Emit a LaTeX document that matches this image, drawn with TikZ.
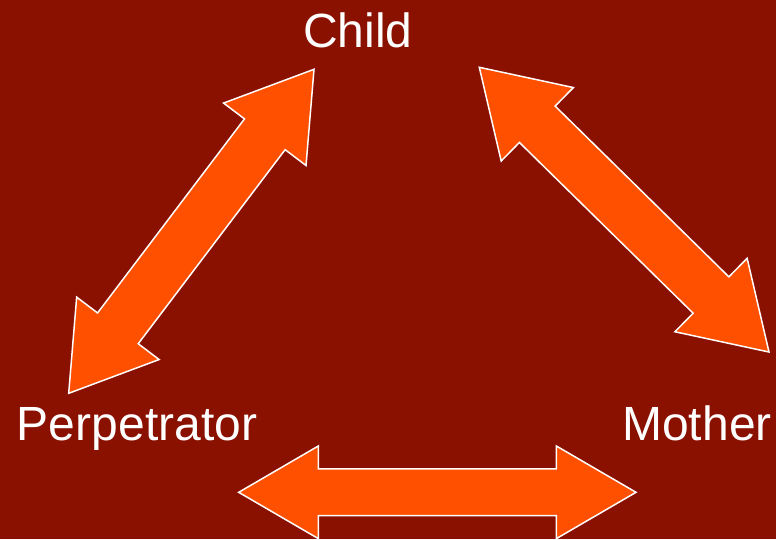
\documentclass[tikz,border=0pt]{standalone}
\usepackage{fontspec}
\setmainfont{Liberation Sans}
\usetikzlibrary{calc}
\definecolor{bgred}{RGB}{138,16,0}
\definecolor{arroworange}{RGB}{255,80,0}

\begin{document}
\begin{tikzpicture}[x=1pt,y=-1pt]


% GLOBAL SETTINGS
\newcommand{\labelsize}{\fontsize{48}{56}\selectfont}
\tikzset{
  lbl/.style={text=white, font=\labelsize, anchor=base, inner sep=0pt},
  blockarrow/.style={fill=arroworange, draw=white, line width=1.5pt, line join=miter}
}
% from, to, shaft half width, head half width, head length
\newcommand{\dblarrow}[5]{
\draw[blockarrow] (#1)
 -- ($(#1)!#5!(#2)!#4!90:(#2)$)
 -- ($(#1)!#5!(#2)!#3!90:(#2)$)
 -- ($(#2)!#5!(#1)!#3!-90:(#1)$)
 -- ($(#2)!#5!(#1)!#4!-90:(#1)$)
 -- (#2)
 -- ($(#2)!#5!(#1)!#4!90:(#1)$)
 -- ($(#2)!#5!(#1)!#3!90:(#1)$)
 -- ($(#1)!#5!(#2)!#3!-90:(#2)$)
 -- ($(#1)!#5!(#2)!#4!-90:(#2)$)
 -- cycle;
}

% BACKGROUND
\useasboundingbox (0,0) rectangle (776,539);
\fill[bgred] (0,0) rectangle (776,539);

% LABELS
\node[lbl] (child) at (358,47) {Child};
\node[lbl] (perp) at (137,440) {Perpetrator};
\node[lbl] (mother) at (697,440) {Mother};

% helper coordinates (arrow tips)
\coordinate (cp) at (314,69.3);
\coordinate (pc) at (68.7,393.3);
\coordinate (cm) at (479.3,67.3);
\coordinate (mc) at (769,352);
\coordinate (pm) at (238.7,492.3);
\coordinate (mp) at (636,492.3);

% ARROWS
\dblarrow{cp}{pc}{25.5pt}{51.7pt}{81.5pt}
\dblarrow{cm}{mc}{25.5pt}{51.5pt}{81.3pt}
\dblarrow{pm}{mp}{23.4pt}{46.3pt}{79.6pt}

\end{tikzpicture}
\end{document}
